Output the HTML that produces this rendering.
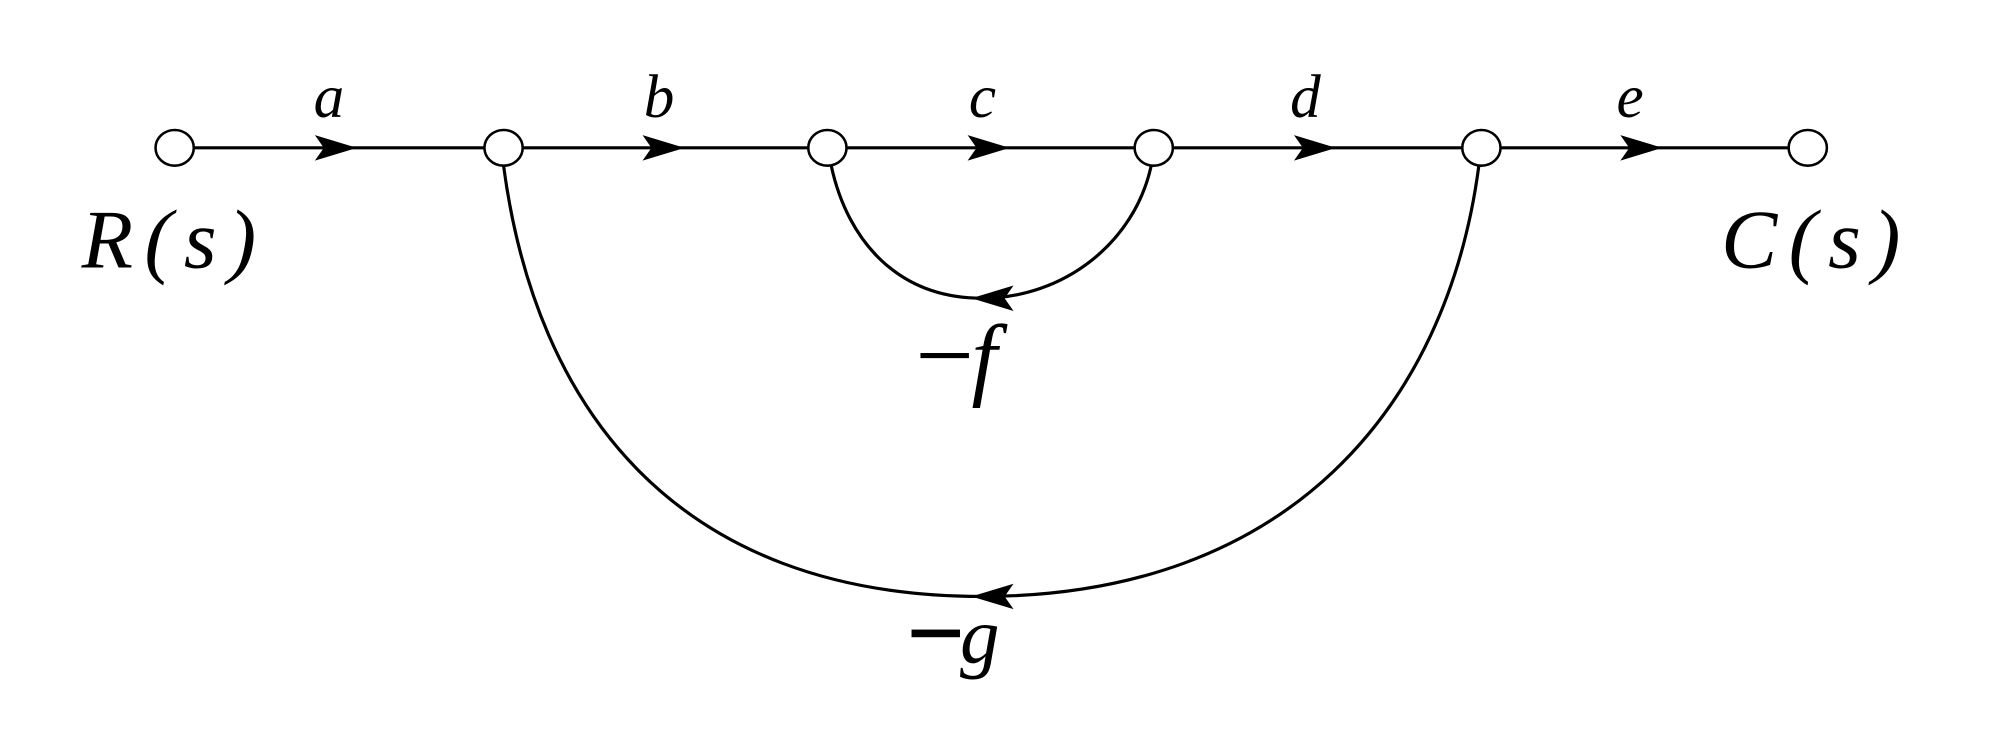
<!DOCTYPE html>
<html><head><meta charset="utf-8"><style>
html,body{margin:0;padding:0;background:#fff;}
svg{display:block;}
text{font-family:"Liberation Serif",serif;font-style:italic;fill:#000;}
</style></head><body>
<svg width="1999" height="743" viewBox="0 0 1568 583" preserveAspectRatio="none" xmlns="http://www.w3.org/2000/svg">
<g stroke="#000" stroke-width="2.5" fill="none">
<line x1="137" y1="116" x2="1418" y2="116"/>
<path d="M652,130 C665,190 705,234 770,234 C835,234 890,190 903,130"/>
<path d="M395,130 C420,320 530,468 770,468 C1010,468 1135,320 1160,130"/>
</g>
<g fill="#000">
<path d="M247,106 L280,116 L247,126 L254,116Z"/>
<path d="M504,106 L537,116 L504,126 L511,116Z"/>
<path d="M759,106 L792,116 L759,126 L766,116Z"/>
<path d="M1015,106 L1048,116 L1015,126 L1022,116Z"/>
<path d="M1271,106 L1304,116 L1271,126 L1278,116Z"/>
<path d="M795,224 L762,234 L795,244 L788,234Z"/>
<path d="M795,458 L762,468 L795,478 L788,468Z"/>
</g>
<g stroke="#000" stroke-width="2" fill="#fff">
<ellipse cx="137" cy="116" rx="15" ry="14"/>
<ellipse cx="395" cy="116" rx="15" ry="14"/>
<ellipse cx="649" cy="116" rx="15" ry="14"/>
<ellipse cx="905" cy="116" rx="15" ry="14"/>
<ellipse cx="1162" cy="116" rx="15" ry="14"/>
<ellipse cx="1418" cy="116" rx="15" ry="14"/>
</g>
<text x="246" y="92" font-size="48">a</text>
<text x="505" y="92" font-size="48">b</text>
<text x="760" y="92" font-size="48">c</text>
<text x="1012" y="92" font-size="48">d</text>
<text x="1268" y="92" font-size="48">e</text>
<text x="64" y="210" font-size="66" letter-spacing="9">R(s)</text>
<text x="1350" y="210" font-size="66" letter-spacing="9">C(s)</text>
<rect x="722" y="277" width="38" height="4" fill="#000"/>
<text x="762" y="305" font-size="72">f</text>
<rect x="715" y="494" width="38" height="6" fill="#000"/>
<text x="753" y="520" font-size="62">g</text>
</svg>
</body></html>
